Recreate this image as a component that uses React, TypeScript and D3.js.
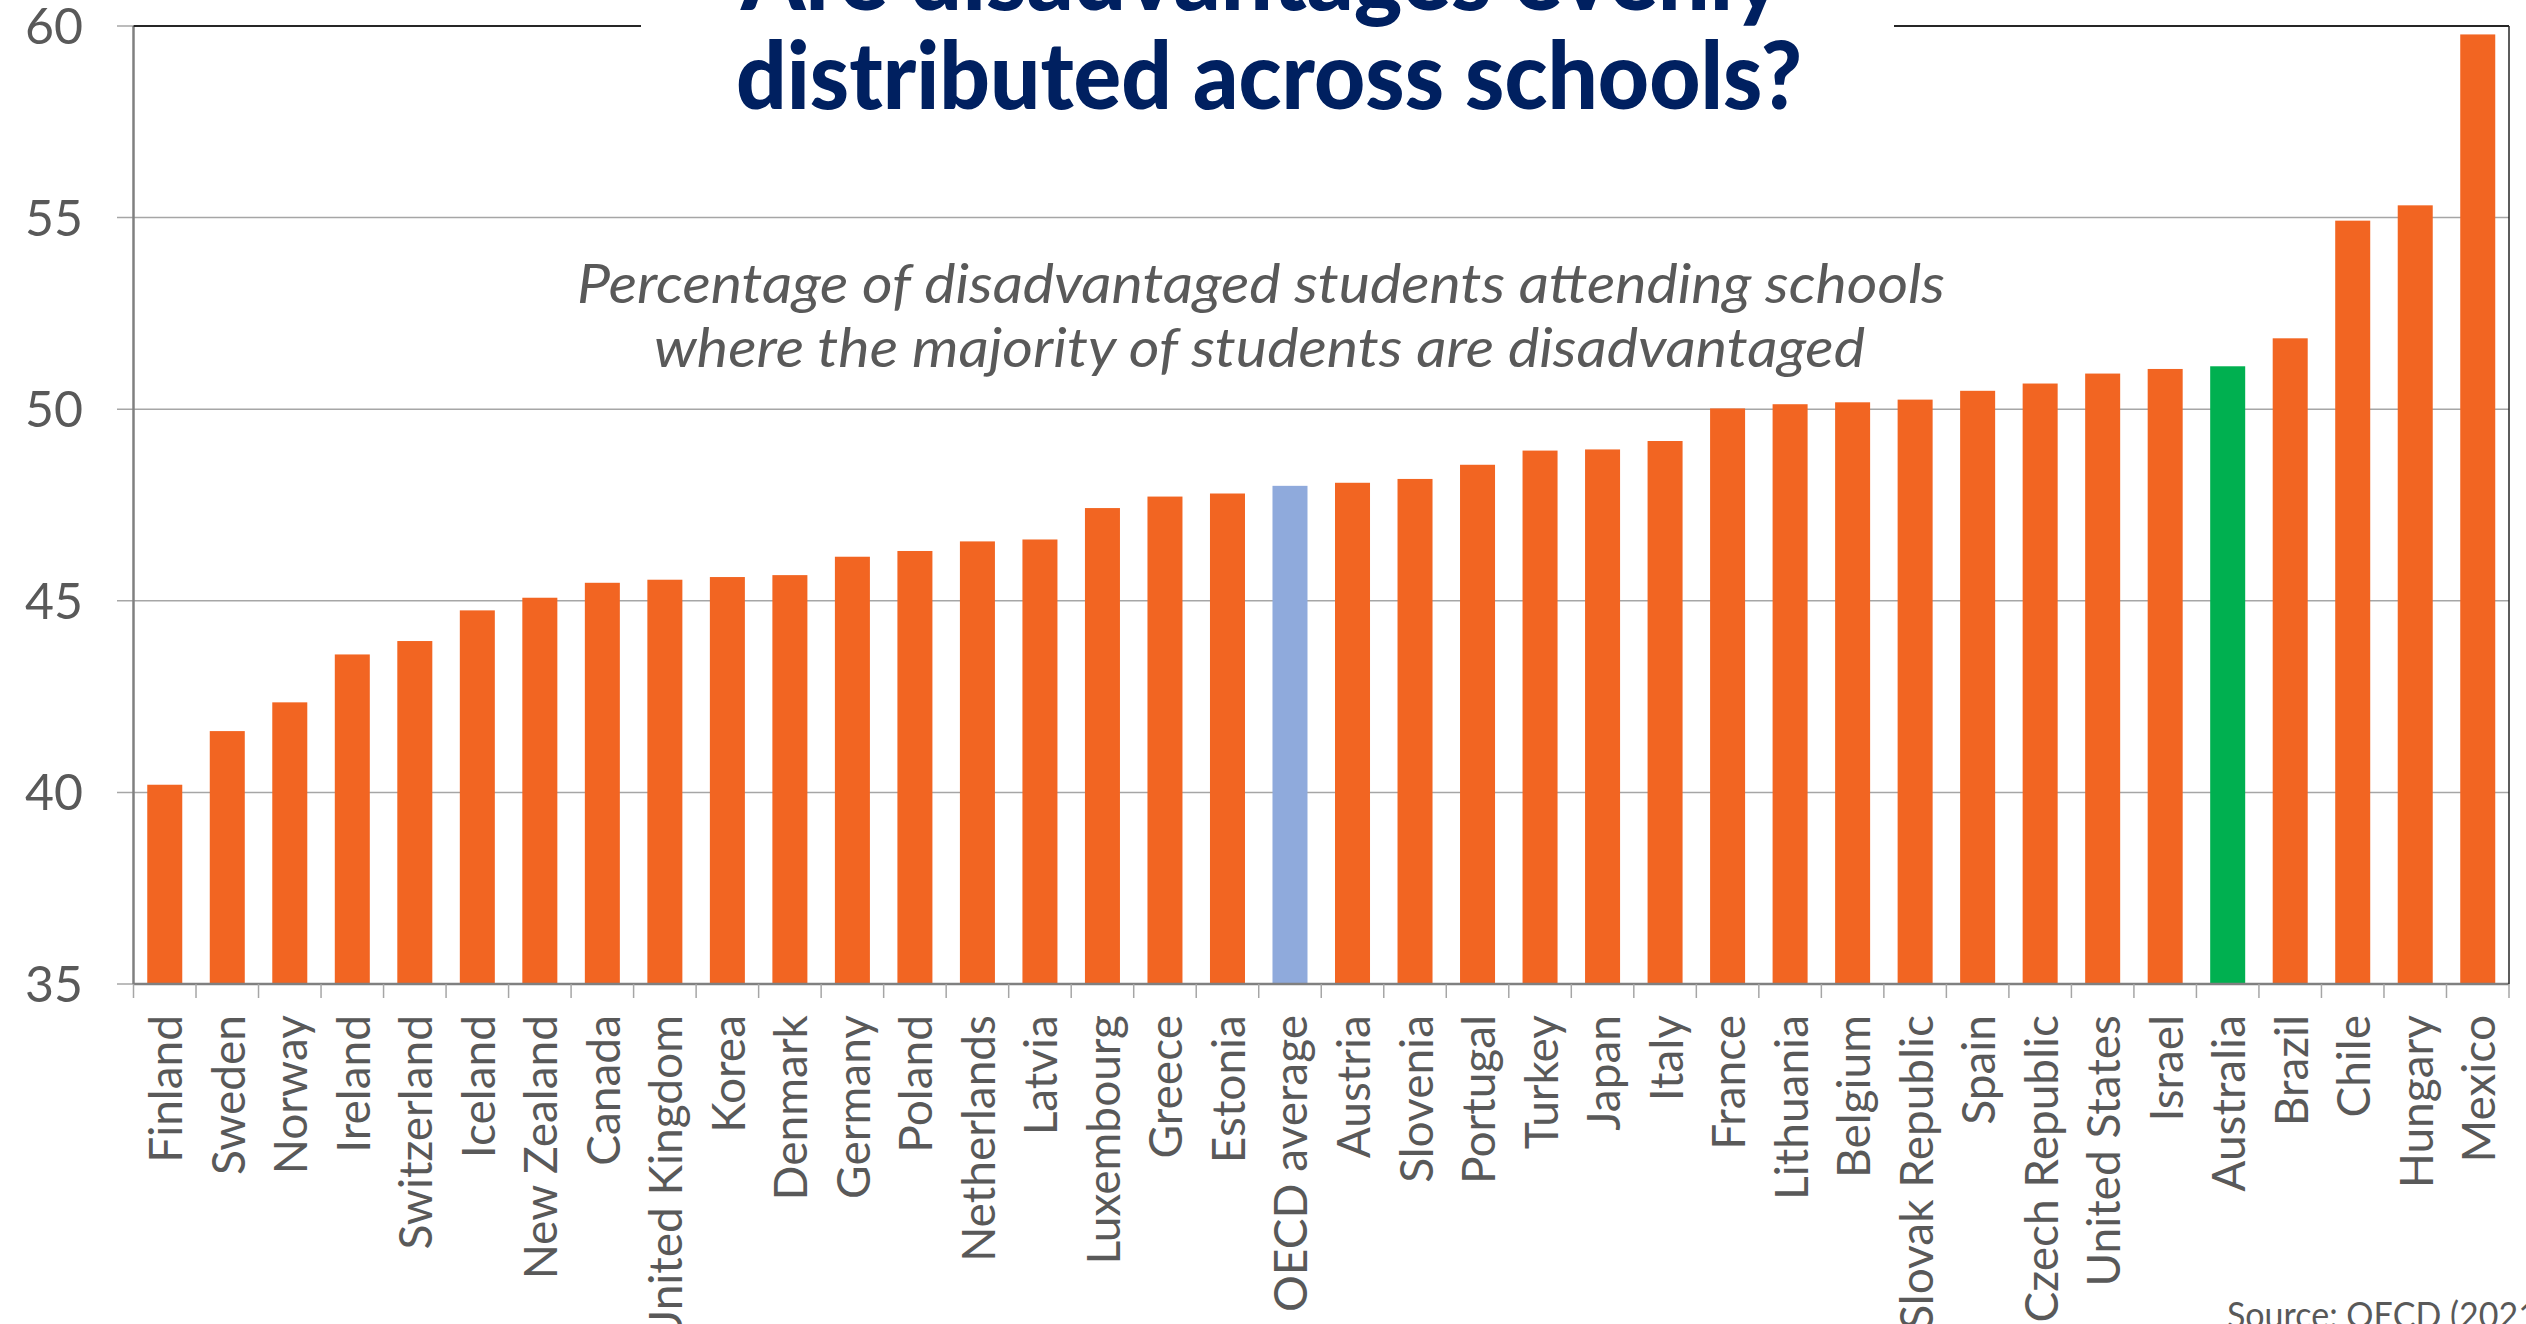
import React from "react";
import * as d3 from "d3";

const countries = [
  "Finland", "Sweden", "Norway", "Ireland", "Switzerland", "Iceland", "New Zealand",
  "Canada", "United Kingdom", "Korea", "Denmark", "Germany", "Poland", "Netherlands",
  "Latvia", "Luxembourg", "Greece", "Estonia", "OECD average", "Austria", "Slovenia",
  "Portugal", "Turkey", "Japan", "Italy", "France", "Lithuania", "Belgium",
  "Slovak Republic", "Spain", "Czech Republic", "United States", "Israel", "Australia",
  "Brazil", "Chile", "Hungary", "Mexico",
];

const values = [
  40.2, 41.6, 42.35, 43.6, 43.95, 44.75, 45.08,
  45.47, 45.55, 45.62, 45.67, 46.15, 46.3, 46.55,
  46.6, 47.42, 47.72, 47.8, 48.0, 48.08, 48.18,
  48.55, 48.92, 48.95, 49.17, 50.02, 50.13, 50.18,
  50.25, 50.48, 50.67, 50.93, 51.05, 51.12,
  51.85, 54.92, 55.32, 59.78,
];

const yTicks = [35, 40, 45, 50, 55, 60];

const titleLines = ["Are disadvantages evenly", "distributed across schools?"];
const subtitleLines = [
  "Percentage of disadvantaged students attending schools",
  "where the majority of students are disadvantaged",
];
const sourceText = "Source: OECD (2021)";

const W = 2526;
const H = 1324;
const left = 133.5;
const right = 2509;
const top = 26;
const bottom = 984;

const ORANGE = "#F26522";
const BLUE = "#8FAADC";
const GREEN = "#00B050";

function barColor(name: string) {
  if (name === "OECD average") return BLUE;
  if (name === "Australia") return GREEN;
  return ORANGE;
}

export default function App() {
  const x = d3.scaleBand<string>().domain(countries).range([left, right]).paddingInner(0.44).paddingOuter(0.22);
  const y = d3.scaleLinear().domain([35, 60]).range([bottom, top]);
  const boundaries = d3.range(countries.length + 1).map((i) => left + i * (right - left) / countries.length);

  return (
    <svg width={W} height={H} style={{ position: "fixed", left: 0, top: 0, background: "#fff" }} fontFamily="Lato, 'Open Sans', sans-serif">
      <rect x={0} y={0} width={W} height={H} fill="#fff" />
      {yTicks.filter((t) => t !== 35 && t !== 60).map((t) => (
        <line key={t} x1={117} x2={right} y1={y(t)} y2={y(t)} stroke="#a6a6a6" strokeWidth={1.5} />
      ))}
      {[35, 60].map((t) => (
        <line key={"s" + t} x1={117} x2={left} y1={y(t)} y2={y(t)} stroke="#a6a6a6" strokeWidth={1.5} />
      ))}
      {countries.map((c, i) => (
        <rect key={c} x={x(c)} y={y(values[i])} width={x.bandwidth()} height={y(35) - y(values[i])} fill={barColor(c)} />
      ))}
      <line x1={left} x2={left} y1={top} y2={bottom} stroke="#808080" strokeWidth={2.5} />
      <line x1={left} x2={right} y1={bottom} y2={bottom} stroke="#808080" strokeWidth={2.5} />
      {boundaries.map((bx, i) => (
        <line key={"t" + i} x1={bx} x2={bx} y1={bottom} y2={bottom + 14} stroke="#a6a6a6" strokeWidth={1.5} />
      ))}
      <line x1={left} x2={right} y1={top} y2={top} stroke="#262626" strokeWidth={2} />
      <line x1={right} x2={right} y1={top} y2={bottom} stroke="#262626" strokeWidth={1.5} />
      {yTicks.map((t) => (
        <text key={"yl" + t} x={83} y={y(t) + 18} textAnchor="end" fontSize={50} fill="#595959">{t}</text>
      ))}
      {countries.map((c) => {
        const cx = (x(c) as number) + x.bandwidth() / 2 + 17.5;
        return (
          <text key={"xl" + c} transform={`translate(${cx},1015) rotate(-90)`} textAnchor="end" fontSize={46} fill="#595959">{c}</text>
        );
      })}
      <rect x={641} y={0} width={1253} height={124} fill="#fff" />
      <text x={741} y={10} fontSize={94} fontWeight={900} fill="#002060" textLength={1041} lengthAdjust="spacingAndGlyphs">{titleLines[0]}</text>
      <text x={736} y={109} fontSize={94} fontWeight={900} fill="#002060" textLength={1066} lengthAdjust="spacingAndGlyphs">{titleLines[1]}</text>
      <text x={577} y={303} fontSize={54} fontStyle="italic" fill="#595959" textLength={1368} lengthAdjust="spacingAndGlyphs">{subtitleLines[0]}</text>
      <text x={654} y={367} fontSize={54} fontStyle="italic" fill="#595959" textLength={1211} lengthAdjust="spacingAndGlyphs">{subtitleLines[1]}</text>
      <text x={2227} y={1328} fontSize={36} fill="#595959" textLength={320} lengthAdjust="spacingAndGlyphs">{sourceText}</text>
    </svg>
  );
}
